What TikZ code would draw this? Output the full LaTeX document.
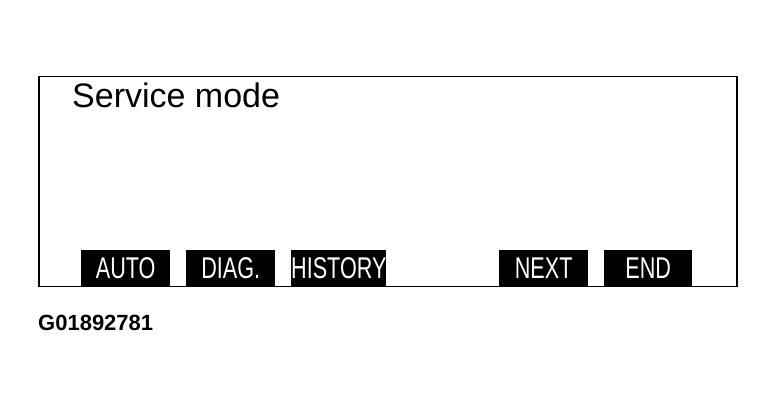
\documentclass[tikz,border=0pt]{standalone}
\usepackage{fontspec}
\setmainfont{Liberation Sans}
\usetikzlibrary{positioning}
\tikzset{
  softkey/.style={fill=black,text=white,minimum width=89pt,minimum height=36pt,inner sep=0pt,
    font=\fontsize{30}{30}\selectfont,anchor=south west},
}
\newcommand{\narrow}[1]{\scalebox{0.72}[1]{#1}}
\begin{document}
\begin{tikzpicture}[x=1pt,y=1pt]
  \useasboundingbox (0,0) rectangle (774,406);
  % screen frame
  \node[draw=black,line width=1.5pt,minimum width=698pt,minimum height=210pt,inner sep=0pt,anchor=north west]
    (screen) at (38,330) {};
  \node[anchor=base west,inner sep=0pt,font=\fontsize{34}{34}\selectfont] (title) at (72,298) {Service mode};
  % soft keys
  \node[softkey] (auto)    at (81,120)  {\narrow{AUTO}};
  \node[softkey] (diag)    at (186,120) {\narrow{DIAG.}};
  \node[softkey] (history) at (291,120) {\narrow{HISTORY}};
  \node[softkey] (next)    at (499,120) {\narrow{NEXT}};
  \node[softkey,minimum width=88pt] (end) at (604,120) {\narrow{END}};
  % figure id
  \node[anchor=base west,inner sep=0pt,font=\fontsize{22}{22}\selectfont\bfseries] (figid) at (38,75) {G01892781};
\end{tikzpicture}
\end{document}
